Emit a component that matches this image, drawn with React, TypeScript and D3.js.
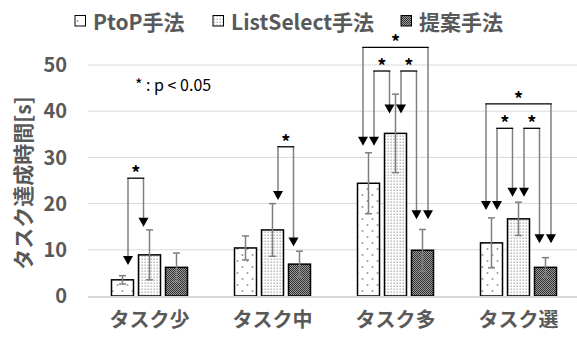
import React from "react";
import * as d3 from "d3";

const categories = ["タスク少", "タスク中", "タスク多", "タスク選"];
const seriesNames = ["PtoP手法", "ListSelect手法", "提案手法"];
const ptopMeans = [3.5, 10.4, 24.4, 11.5];
const ptopErr = [0.9, 2.6, 6.6, 5.4];
const listMeans = [8.9, 14.3, 35.2, 16.7];
const listErr = [5.4, 5.7, 8.5, 3.6];
const teianMeans = [6.2, 6.9, 9.9, 6.2];
const teianErr = [3.1, 2.8, 4.5, 2.1];
const yTicks = [0, 10, 20, 30, 40, 50];

// significance brackets: group index, left series, right series, bracket top, left arrow tip, right arrow tip
const sigGroup = [0, 1, 2, 2, 2, 3, 3, 3];
const sigLeft = [0, 1, 0, 0, 1, 0, 0, 1];
const sigRight = [1, 2, 2, 1, 2, 2, 1, 2];
const sigTop = [25.5, 32.3, 53.8, 48.7, 48.7, 41.6, 36.3, 36.3];
const sigLeftTip = [6.7, 20.8, 32.5, 32.5, 39.5, 18.6, 18.6, 21.5];
const sigRightTip = [15.0, 10.7, 16.6, 39.5, 16.6, 11.4, 21.5, 11.4];

const W = 577;
const H = 338;
const FONT = "'Noto Sans CJK JP', 'Noto Sans', sans-serif";
const GREY_TEXT = "#595959";

export default function App() {
  const means = [ptopMeans, listMeans, teianMeans];
  const errs = [ptopErr, listErr, teianErr];
  const patterns = ["pat-ptop", "pat-list", "pat-teian"];

  const x0 = d3.scaleBand<string>().domain(categories).range([88, 580]).paddingInner(0).paddingOuter(0);
  const x1 = d3
    .scaleBand<string>()
    .domain(seriesNames)
    .range([-38, 38])
    .paddingInner(0.185)
    .paddingOuter(0);
  const y = d3.scaleLinear().domain([0, 50]).range([296, 65]);

  const barCenter = (g: number, s: number) =>
    (x0(categories[g]) as number) + x0.bandwidth() / 2 + (x1(seriesNames[s]) as number) + x1.bandwidth() / 2;

  const arrow = (xc: number, tipV: number, topY: number, key: string) => {
    const tipY = y(tipV);
    const th = 9;
    const tw = 10;
    return (
      <g key={key}>
        <line x1={xc} x2={xc} y1={topY} y2={tipY - th + 1} stroke="#808080" strokeWidth={1.5} />
        <path d={`M${xc - tw / 2},${tipY - th}L${xc + tw / 2},${tipY - th}L${xc},${tipY}Z`} fill="#000" />
      </g>
    );
  };

  const legendX = [75, 213, 401];

  return (
    <svg width={W} height={H} style={{ position: "absolute", left: 0, top: 0, background: "#fff" }} fontFamily={FONT}>
      <defs>
        <pattern id="pat-ptop" patternUnits="userSpaceOnUse" width={10} height={12}>
          <rect width={10} height={12} fill="#fff" />
          <circle cx={2.5} cy={3} r={1} fill="#9a9a9a" />
          <circle cx={7.5} cy={9} r={1} fill="#9a9a9a" />
        </pattern>
        <pattern id="pat-list" patternUnits="userSpaceOnUse" width={3} height={3}>
          <rect width={3} height={3} fill="#fff" />
          <rect x={0.5} y={0.5} width={1.4} height={1.4} fill="#b0b0b0" />
        </pattern>
        <pattern id="pat-teian" patternUnits="userSpaceOnUse" width={2} height={2}>
          <rect width={2} height={2} fill="#9a9a9a" />
          <rect x={0} y={0} width={1} height={1} fill="#333" />
          <rect x={1} y={1} width={1} height={1} fill="#333" />
        </pattern>
      </defs>

      {/* gridlines */}
      {yTicks.slice(1).map((t) => (
        <line key={"g" + t} x1={88} x2={577} y1={y(t)} y2={y(t)} stroke="#d9d9d9" strokeWidth={1} />
      ))}

      {/* y tick labels */}
      {yTicks.map((t) => (
        <text
          key={"t" + t}
          x={67}
          y={y(t)}
          dy="0.36em"
          textAnchor="end"
          fontSize={20}
          fontWeight="bold"
          fill={GREY_TEXT}
        >
          {t}
        </text>
      ))}

      {/* y axis label */}
      <text
        transform="translate(23,183) rotate(-90)"
        textAnchor="middle"
        dy="0.36em"
        fontSize={21}
        fontWeight="bold"
        fill={GREY_TEXT}
      >
        タスク達成時間[s]
      </text>

      {/* bars */}
      {categories.map((c, g) =>
        seriesNames.map((s, si) => {
          const bx = (x0(c) as number) + x0.bandwidth() / 2 + (x1(s) as number);
          const v = means[si][g];
          return (
            <rect
              key={c + s}
              x={bx}
              y={y(v)}
              width={x1.bandwidth()}
              height={y(0) - y(v)}
              fill={`url(#${patterns[si]})`}
              stroke="#000"
              strokeWidth={1.5}
            />
          );
        })
      )}

      {/* axis line */}
      <line x1={88} x2={577} y1={y(0) + 1} y2={y(0) + 1} stroke="#d9d9d9" strokeWidth={2} />

      {/* error bars */}
      {categories.map((c, g) =>
        seriesNames.map((s, si) => {
          const cx = barCenter(g, si);
          const v = means[si][g];
          const e = errs[si][g];
          return (
            <g key={"e" + c + s} stroke="#7f7f7f" strokeWidth={1.5}>
              <line x1={cx} x2={cx} y1={y(v + e)} y2={y(v - e)} />
              <line x1={cx - 3.5} x2={cx + 3.5} y1={y(v + e)} y2={y(v + e)} />
              <line x1={cx - 3.5} x2={cx + 3.5} y1={y(v - e)} y2={y(v - e)} />
            </g>
          );
        })
      )}

      {/* significance brackets */}
      {sigGroup.map((g, i) => {
        const lx = barCenter(g, sigLeft[i]) + (sigRight[i] - sigLeft[i] === 2 ? -5.5 : 5.5);
        const rx = barCenter(g, sigRight[i]) + (sigRight[i] - sigLeft[i] === 2 ? 5.5 : -6);
        const ty = y(sigTop[i]);
        return (
          <g key={"s" + i}>
            {arrow(lx, sigLeftTip[i], ty, "l" + i)}
            {arrow(rx, sigRightTip[i], ty, "r" + i)}
            <line x1={lx - 0.75} x2={rx + 0.75} y1={ty} y2={ty} stroke="#000" strokeWidth={1.3} />
            <text x={(lx + rx) / 2} y={ty + 2} textAnchor="middle" fontSize={18} fontWeight="bold" fill="#000">
              *
            </text>
          </g>
        );
      })}

      {/* p-value note */}
      <text x={135} y={91} fontSize={16} fill="#000">
        * : p &lt; 0.05
      </text>

      {/* category labels */}
      {categories.map((c) => (
        <text
          key={"c" + c}
          x={(x0(c) as number) + x0.bandwidth() / 2}
          y={320}
          dy="0.36em"
          textAnchor="middle"
          fontSize={20}
          fontWeight="bold"
          fill={GREY_TEXT}
        >
          {c}
        </text>
      ))}

      {/* legend */}
      {seriesNames.map((s, si) => (
        <g key={"l" + s}>
          <rect
            x={legendX[si]}
            y={15.5}
            width={10.5}
            height={10.5}
            fill={`url(#${patterns[si]})`}
            stroke="#000"
            strokeWidth={1}
          />
          <text
            x={legendX[si] + 18}
            y={22.5}
            dy="0.36em"
            fontSize={21}
            fontWeight="bold"
            fill={GREY_TEXT}
          >
            {s}
          </text>
        </g>
      ))}
    </svg>
  );
}
